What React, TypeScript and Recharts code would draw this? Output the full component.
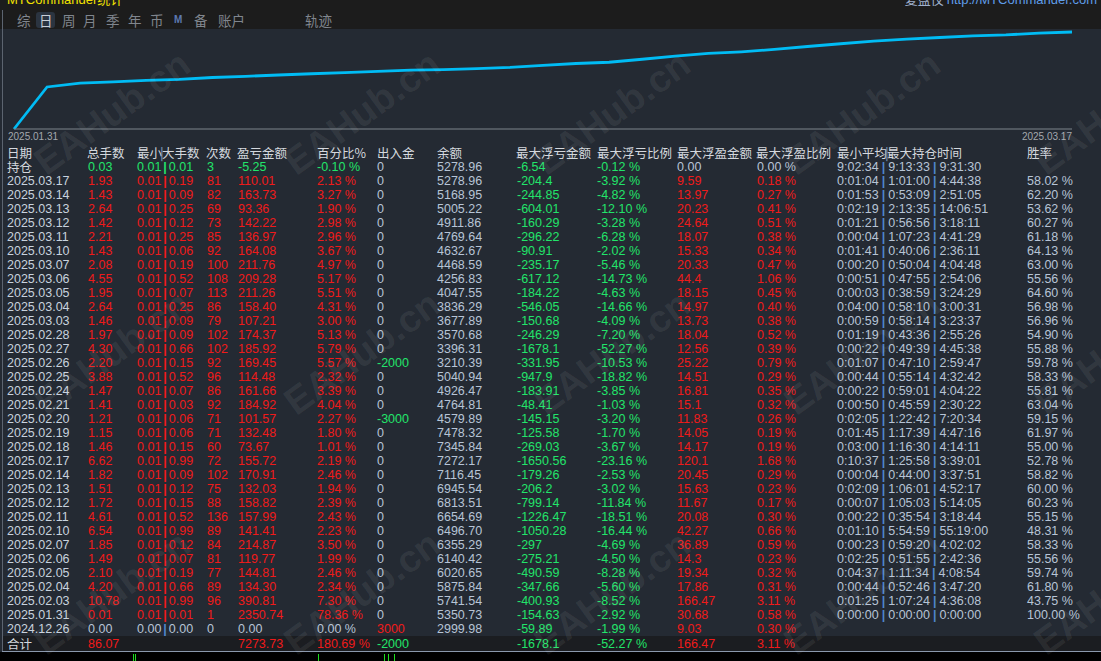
import React from "react";
import { LineChart, Line, XAxis, YAxis } from "recharts";

// rows, newest first (last row is the opening deposit day)
const dates = [
  "2025.03.17", "2025.03.14", "2025.03.13", "2025.03.12", "2025.03.11", "2025.03.10", "2025.03.07",
  "2025.03.06", "2025.03.05", "2025.03.04", "2025.03.03", "2025.02.28", "2025.02.27", "2025.02.26",
  "2025.02.25", "2025.02.24", "2025.02.21", "2025.02.20", "2025.02.19", "2025.02.18", "2025.02.17",
  "2025.02.14", "2025.02.13", "2025.02.12", "2025.02.11", "2025.02.10", "2025.02.07", "2025.02.06",
  "2025.02.05", "2025.02.04", "2025.02.03", "2025.01.31", "2024.12.26",
];
const lots = [
  "1.93", "1.43", "2.64", "1.42", "2.21", "1.43", "2.08", "4.55", "1.95", "2.64", "1.46", "1.97", "4.30",
  "2.20", "3.88", "1.47", "1.41", "1.21", "1.15", "1.46", "6.62", "1.82", "1.51", "1.72", "4.61", "6.54",
  "1.85", "1.49", "2.10", "4.20", "10.78", "0.01", "0.00",
];
const minLots = [...Array(32).fill("0.01"), "0.00"];
const maxLots = [
  "0.19", "0.09", "0.25", "0.12", "0.25", "0.06", "0.19", "0.52", "0.07", "0.25", "0.09", "0.09", "0.66",
  "0.15", "0.52", "0.07", "0.03", "0.06", "0.06", "0.15", "0.99", "0.09", "0.12", "0.15", "0.52", "0.99",
  "0.12", "0.07", "0.19", "0.66", "0.99", "0.01", "0.00",
];
const counts = [
  81, 82, 69, 73, 85, 92, 100, 108, 113, 86, 79, 102, 102, 92, 96, 86, 92, 71, 71, 60, 72, 102, 75, 88,
  136, 89, 84, 81, 77, 89, 96, 1, 0,
];
const profit = [
  "110.01", "163.73", "93.36", "142.22", "136.97", "164.08", "211.76", "209.28", "211.26", "158.40",
  "107.21", "174.37", "185.92", "169.45", "114.48", "161.66", "184.92", "101.57", "132.48", "73.67",
  "155.72", "170.91", "132.03", "158.82", "157.99", "141.41", "214.87", "119.77", "144.81", "134.30",
  "390.81", "2350.74", "0.00",
];
const pct = [
  2.13, 3.27, 1.9, 2.98, 2.96, 3.67, 4.97, 5.17, 5.51, 4.31, 3.0, 5.13, 5.79, 5.57, 2.32, 3.39, 4.04,
  2.27, 1.8, 1.01, 2.19, 2.46, 1.94, 2.39, 2.43, 2.23, 3.5, 1.99, 2.46, 2.34, 7.3, 78.36, 0,
];
const cash = [
  "0", "0", "0", "0", "0", "0", "0", "0", "0", "0", "0", "0", "0", "-2000", "0", "0", "0", "-3000", "0",
  "0", "0", "0", "0", "0", "0", "0", "0", "0", "0", "0", "0", "0", "3000",
];
const balance = [
  "5278.96", "5168.95", "5005.22", "4911.86", "4769.64", "4632.67", "4468.59", "4256.83", "4047.55",
  "3836.29", "3677.89", "3570.68", "3396.31", "3210.39", "5040.94", "4926.47", "4764.81", "4579.89",
  "7478.32", "7345.84", "7272.17", "7116.45", "6945.54", "6813.51", "6654.69", "6496.70", "6355.29",
  "6140.42", "6020.65", "5875.84", "5741.54", "5350.73", "2999.98",
];
const maxLoss = [
  "-204.4", "-244.85", "-604.01", "-160.29", "-296.22", "-90.91", "-235.17", "-617.12", "-184.22",
  "-546.05", "-150.68", "-246.29", "-1678.1", "-331.95", "-947.9", "-183.91", "-48.41", "-145.15",
  "-125.58", "-269.03", "-1650.56", "-179.26", "-206.2", "-799.14", "-1226.47", "-1050.28", "-297",
  "-275.21", "-490.59", "-347.66", "-400.93", "-154.63", "-59.89",
];
const maxLossPct = [
  "-3.92", "-4.82", "-12.10", "-3.28", "-6.28", "-2.02", "-5.46", "-14.73", "-4.63", "-14.66", "-4.09",
  "-7.20", "-52.27", "-10.53", "-18.82", "-3.85", "-1.03", "-3.20", "-1.70", "-3.67", "-23.16", "-2.53",
  "-3.02", "-11.84", "-18.51", "-16.44", "-4.69", "-4.50", "-8.28", "-5.60", "-8.52", "-2.92", "-1.99",
];
const maxGain = [
  "9.59", "13.97", "20.23", "24.64", "18.07", "15.33", "20.33", "44.4", "18.15", "14.97", "13.73",
  "18.04", "12.56", "25.22", "14.51", "16.81", "15.1", "11.83", "14.05", "14.17", "120.1", "20.45",
  "15.63", "11.67", "20.08", "42.27", "36.89", "14.3", "19.34", "17.86", "166.47", "30.68", "9.03",
];
const maxGainPct = [
  "0.18", "0.27", "0.41", "0.51", "0.38", "0.34", "0.47", "1.06", "0.45", "0.40", "0.38", "0.52", "0.39",
  "0.79", "0.29", "0.35", "0.32", "0.26", "0.19", "0.19", "1.68", "0.29", "0.23", "0.17", "0.30", "0.66",
  "0.59", "0.23", "0.32", "0.31", "3.11", "0.58", "0.30",
];
const holdTimes = [
  "0:01:04|1:01:00|4:44:38", "0:01:53|0:53:09|2:51:05", "0:02:19|2:13:35|14:06:51",
  "0:01:21|0:56:56|3:18:11", "0:00:04|1:07:23|4:41:29", "0:01:41|0:40:06|2:36:11",
  "0:00:20|0:50:04|4:04:48", "0:00:51|0:47:55|2:54:06", "0:00:03|0:38:59|3:24:29",
  "0:04:00|0:58:10|3:00:31", "0:00:59|0:58:14|3:23:37", "0:01:19|0:43:36|2:55:26",
  "0:00:22|0:49:39|4:45:38", "0:01:07|0:47:10|2:59:47", "0:00:44|0:55:14|4:32:42",
  "0:00:22|0:59:01|4:04:22", "0:00:50|0:45:59|2:30:22", "0:02:05|1:22:42|7:20:34",
  "0:01:45|1:17:39|4:47:16", "0:03:00|1:16:30|4:14:11", "0:10:37|1:25:58|3:39:01",
  "0:00:04|0:44:00|3:37:51", "0:02:09|1:06:01|4:52:17", "0:00:07|1:05:03|5:14:05",
  "0:00:22|0:35:54|3:18:44", "0:01:10|5:54:59|55:19:00", "0:00:23|0:59:20|4:02:02",
  "0:02:25|0:51:55|2:42:36", "0:04:37|1:11:34|4:08:54", "0:00:44|0:52:46|3:47:20",
  "0:01:25|1:07:24|4:36:08", "0:00:00|0:00:00|0:00:00", "",
];
const winRate = [
  "58.02", "62.20", "53.62", "60.27", "61.18", "64.13", "63.00", "55.56", "64.60", "56.98", "56.96",
  "54.90", "55.88", "59.78", "58.33", "55.81", "63.04", "59.15", "61.97", "55.00", "52.78", "58.82",
  "60.00", "60.23", "55.15", "48.31", "58.33", "55.56", "59.74", "61.80", "43.75", "100.00", "",
];

// open positions row and totals row
const openRow = {
  lots: "0.03", min: "0.01", max: "0.01", count: "3", profit: "-5.25", pct: "-0.10 %", cash: "0",
  balance: "5278.96", loss: "-6.54", lossPct: "-0.12 %", gain: "0.00", gainPct: "0.00 %",
  hold: "9:02:34|9:13:33|9:31:30",
};
const totalRow = {
  lots: "86.07", profit: "7273.73", pct: "180.69 %", cash: "-2000", loss: "-1678.1", lossPct: "-52.27 %",
  gain: "166.47", gainPct: "3.11 %",
};

const headers = [
  "日期", "总手数", "最小|大手数", "次数", "盈亏金额", "百分比%", "出入金", "余额", "最大浮亏金额",
  "最大浮亏比例", "最大浮盈金额", "最大浮盈比例", "最小平均|最大持仓时间", "胜率",
];
const tabs = ["综", "日", "周", "月", "季", "年", "币", "M", "备", "账户", "轨迹"];
const axisDates = ["2025.01.31", "2025.03.17"];

const colX = [7, 88, 137, 207, 238, 317, 377, 437, 517, 597, 677, 757, 837, 1027];
const headX = [7, 87, 137, 206, 237, 317, 377, 437, 516, 597, 677, 756, 837, 1027];
const tabX = [17, 39, 62, 83, 106, 128, 150, 174, 194, 218, 305];

const NUM = "'Liberation Sans Narrow', 'Liberation Sans', Arial, sans-serif";
const CJK = "'Noto Sans CJK SC', 'Noto Sans', sans-serif";
const RED = "#f01a1a";
const GREEN = "#22e46a";
const PLAIN = "#b7c4d6";
const DATE_C = "#c8d2de";
const BAR = "#4f86cc";

// cumulative daily percentage, oldest first
const daily = pct.slice(0, 32).reverse();
let acc = 0;
const equity = [{ i: 0, v: 0 }];
daily.forEach((p, k) => {
  acc += p;
  equity.push({ i: k + 1, v: Math.round(acc * 100) / 100 });
});

function T(props: { x: number; y: number; color: string; cjk?: boolean; size?: number; children: React.ReactNode }) {
  const { x, y, color, cjk, size, children } = props;
  return (
    <div
      style={{
        position: "absolute", left: x, top: y - 7, height: 14, lineHeight: "14px",
        fontSize: size ?? 12.5, fontFamily: cjk ? CJK : NUM, color, whiteSpace: "nowrap",
      }}
    >
      {children}
    </div>
  );
}

function Bars(props: { text: string; color: string; bar: string; gap?: number }) {
  const parts = props.text.split("|");
  const gap = props.gap ?? 2;
  return (
    <span style={{ color: props.color }}>
      {parts.map((p, k) => (
        <React.Fragment key={k}>
          {k > 0 && (
            <span
              style={{
                color: props.bar, display: "inline-block", fontWeight: 700,
                width: gap < 0 ? 0 : undefined, margin: gap < 0 ? "0" : `0 ${gap}px`,
                transform: gap < 0 ? "translateX(-2px)" : undefined,
              }}
            >
              |
            </span>
          )}
          {p}
        </React.Fragment>
      ))}
    </span>
  );
}

function AxisTick(props: any) {
  const { x, y, payload } = props;
  const first = payload.value === 0;
  return (
    <text
      x={first ? x - 6 : x}
      y={y + 3}
      textAnchor={first ? "start" : "end"}
      fill="#a3a8ae"
      fontSize={10}
      fontFamily={NUM}
    >
      {first ? axisDates[0] : axisDates[1]}
    </text>
  );
}

export default function App() {
  const rowY = (k: number) => 181 + 14 * k;
  return (
    <div
      style={{
        position: "fixed", left: 0, top: 0, width: 1101, height: 661, overflow: "hidden",
        background: "#242a33",
      }}
    >
      {/* top bar */}
      <div style={{ position: "absolute", left: 0, top: 0, width: 1101, height: 29, background: "#1c1c1c" }} />
      <div style={{ position: "absolute", left: 7, top: -8, height: 13, lineHeight: "13px", fontSize: 13, fontFamily: NUM, color: "#f2e200", whiteSpace: "nowrap" }}>
        MTCommander<span style={{ fontFamily: CJK }}>统计</span>
      </div>
      <div style={{ position: "absolute", right: 4, top: -8, height: 13, lineHeight: "13px", fontSize: 13, fontFamily: NUM, whiteSpace: "nowrap" }}>
        <span style={{ fontFamily: CJK, color: "#9fb0cc" }}>复盘仪 </span>
        <span style={{ color: "#5f9de8" }}>http://MTCommander.com</span>
      </div>
      <div style={{ position: "absolute", left: 36, top: 12, width: 19, height: 16, borderRadius: 3, background: "#2b3440" }} />
      {tabs.map((t, k) => (
        <div
          key={t}
          style={{
            position: "absolute", left: tabX[k], top: 12, lineHeight: "16px",
            fontSize: t === "M" ? 10 : 13.5, fontWeight: t === "M" ? 700 : 400,
            fontFamily: t === "M" ? NUM : CJK, color: t === "日" ? "#c9ced6" : t === "M" ? "#5c79b0" : "#80868e",
          }}
        >
          {t}
        </div>
      ))}

      {/* left border */}
      <div style={{ position: "absolute", left: 2, top: 10, width: 1, height: 641, background: "#5c6470" }} />

      {/* equity curve */}
      <div style={{ position: "absolute", left: 0, top: 29 }}>
        <LineChart width={1101} height={115} data={equity} margin={{ top: 3, right: 29, bottom: 0, left: 14 }}>
          <XAxis
            dataKey="i"
            type="number"
            domain={[0, 32]}
            ticks={[0, 32]}
            interval={0}
            tickLine={false}
            axisLine={{ stroke: "#7d848c" }}
            height={15}
            tick={<AxisTick />}
          />
          <YAxis width={0} domain={[0, "dataMax"]} tick={false} tickLine={false} axisLine={{ stroke: "#7d848c" }} />
          <Line type="linear" dataKey="v" stroke="#00bcf5" strokeWidth={2.8} dot={false} isAnimationActive={false} />
        </LineChart>
      </div>

      {/* header */}
      {headers.map((h, k) => (
        <T key={h} x={headX[k]} y={152.5} color="#d4d8de" cjk>
          {h.includes("|") ? <Bars text={h} color="#d4d8de" bar="#6f8aa8" gap={-1} /> : h}
        </T>
      ))}

      {/* open positions */}
      <T x={colX[0]} y={167} color="#d4d8de" cjk>持仓</T>
      <T x={colX[1]} y={167} color={GREEN}>{openRow.lots}</T>
      <T x={colX[2]} y={167} color={GREEN}><Bars text={`${openRow.min}|${openRow.max}`} color={GREEN} bar={GREEN} /></T>
      <T x={colX[3]} y={167} color={GREEN}>{openRow.count}</T>
      <T x={colX[4]} y={167} color={GREEN}>{openRow.profit}</T>
      <T x={colX[5]} y={167} color={GREEN}>{openRow.pct}</T>
      <T x={colX[6]} y={167} color={PLAIN}>{openRow.cash}</T>
      <T x={colX[7]} y={167} color={PLAIN}>{openRow.balance}</T>
      <T x={colX[8]} y={167} color={GREEN}>{openRow.loss}</T>
      <T x={colX[9]} y={167} color={GREEN}>{openRow.lossPct}</T>
      <T x={colX[10]} y={167} color={PLAIN}>{openRow.gain}</T>
      <T x={colX[11]} y={167} color={PLAIN}>{openRow.gainPct}</T>
      <T x={colX[12]} y={167} color={PLAIN}><Bars text={openRow.hold} color={PLAIN} bar={BAR} gap={3} /></T>

      {/* daily rows */}
      {dates.map((d, k) => {
        const y = rowY(k);
        const c = k < 32 ? RED : PLAIN;
        const cashC = cash[k] === "0" ? PLAIN : cash[k].startsWith("-") ? GREEN : RED;
        return (
          <React.Fragment key={d}>
            <T x={colX[0]} y={y} color={DATE_C}>{d}</T>
            <T x={colX[1]} y={y} color={c}>{lots[k]}</T>
            <T x={colX[2]} y={y} color={c}><Bars text={`${minLots[k]}|${maxLots[k]}`} color={c} bar={k < 32 ? RED : BAR} /></T>
            <T x={colX[3]} y={y} color={c}>{counts[k]}</T>
            <T x={colX[4]} y={y} color={c}>{profit[k]}</T>
            <T x={colX[5]} y={y} color={c}>{pct[k].toFixed(2)} %</T>
            <T x={colX[6]} y={y} color={cashC}>{cash[k]}</T>
            <T x={colX[7]} y={y} color={PLAIN}>{balance[k]}</T>
            <T x={colX[8]} y={y} color={GREEN}>{maxLoss[k]}</T>
            <T x={colX[9]} y={y} color={GREEN}>{maxLossPct[k]} %</T>
            <T x={colX[10]} y={y} color={RED}>{maxGain[k]}</T>
            <T x={colX[11]} y={y} color={RED}>{maxGainPct[k]} %</T>
            <T x={colX[12]} y={y} color={PLAIN}><Bars text={holdTimes[k]} color={PLAIN} bar={BAR} gap={3} /></T>
            <T x={colX[13]} y={y} color={PLAIN}>{winRate[k] ? `${winRate[k]} %` : ""}</T>
          </React.Fragment>
        );
      })}

      {/* totals */}
      <div style={{ position: "absolute", left: 3, top: 636, width: 1098, height: 15, background: "#1b1d21" }} />
      <T x={colX[0]} y={644} color="#d4d8de" cjk>合计</T>
      <T x={colX[1]} y={644} color={RED}>{totalRow.lots}</T>
      <T x={colX[4]} y={644} color={RED}>{totalRow.profit}</T>
      <T x={colX[5]} y={644} color={RED}>{totalRow.pct}</T>
      <T x={colX[6]} y={644} color={GREEN}>{totalRow.cash}</T>
      <T x={colX[8]} y={644} color={GREEN}>{totalRow.loss}</T>
      <T x={colX[9]} y={644} color={GREEN}>{totalRow.lossPct}</T>
      <T x={colX[10]} y={644} color={RED}>{totalRow.gain}</T>
      <T x={colX[11]} y={644} color={RED}>{totalRow.gainPct}</T>

      {/* bottom edge */}
      <div style={{ position: "absolute", left: 2, top: 651, width: 1099, height: 1, background: "#8a98ac" }} />
      <div style={{ position: "absolute", left: 0, top: 652, width: 1101, height: 9, background: "#000" }} />
      {[133, 135, 318, 384, 388, 394].map((x) => (
        <div key={x} style={{ position: "absolute", left: x, top: 654, width: 1, height: 7, background: "#1ee01e" }} />
      ))}

      {/* watermark */}
      {[0, 1, 2].map((j) =>
        [0, 1, 2, 3, 4].map((i) => (
          <div
            key={`${i}-${j}`}
            style={{
              position: "absolute", left: 45 + 250 * i, top: 175 + 240 * j - 30, lineHeight: "38px",
              fontSize: 38, fontWeight: 700, fontFamily: "'Liberation Sans', Arial, sans-serif",
              color: "rgba(255,255,255,0.075)", transform: "rotate(-36deg)", transformOrigin: "0px 30px",
              whiteSpace: "nowrap", pointerEvents: "none",
            }}
          >
            EAHub.cn
          </div>
        ))
      )}
    </div>
  );
}
